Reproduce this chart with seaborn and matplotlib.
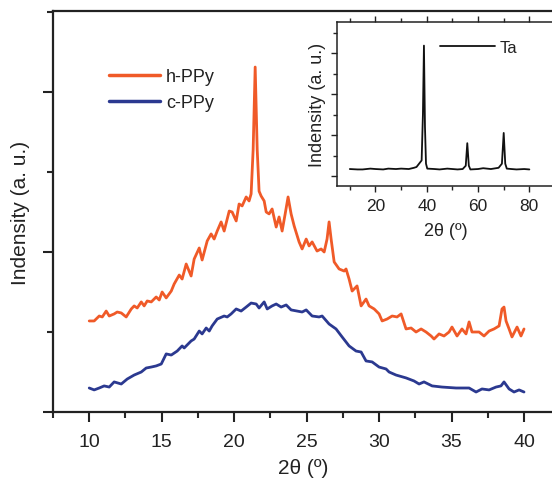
import matplotlib
matplotlib.use("Agg")
import matplotlib.pyplot as plt
import seaborn as sns
import pandas as pd
from matplotlib.ticker import MultipleLocator

# ---------------- data ----------------
h_x = [10.00, 10.34, 10.69, 10.90, 11.17, 11.38, 11.72, 11.93, 12.21, 12.55, 12.90, 13.10, 13.31,
       13.59, 13.79, 14.00, 14.28, 14.62, 14.83, 15.03, 15.31, 15.66, 15.86, 16.21, 16.41, 16.69,
       17.03, 17.24, 17.59, 17.79, 18.14, 18.41, 18.62, 18.83, 19.10, 19.31, 19.66, 19.86, 20.14,
       20.34, 20.55, 20.83, 21.03, 21.17, 21.31, 21.45, 21.59, 21.72, 21.86, 22.07, 22.21, 22.41,
       22.62, 22.90, 23.10, 23.31, 23.52, 23.72, 23.93, 24.14, 24.48, 24.69, 24.97, 25.17, 25.38,
       25.72, 26.00, 26.21, 26.41, 26.55, 26.69, 26.90, 27.24, 27.59, 27.72, 27.93, 28.14, 28.48,
       28.76, 29.10, 29.31, 29.66, 30.00, 30.21, 30.55, 30.90, 31.24, 31.52, 31.86, 32.21, 32.55,
       32.90, 33.24, 33.59, 33.79, 34.14, 34.48, 34.83, 35.03, 35.38, 35.72, 36.00, 36.21, 36.41,
       36.90, 37.24, 37.59, 37.93, 38.28, 38.48, 38.62, 38.76, 38.97, 39.17, 39.52, 39.79, 40.00]
h_y = [0.569, 0.569, 0.600, 0.594, 0.631, 0.600, 0.613, 0.625, 0.619, 0.594, 0.644, 0.663, 0.650,
       0.688, 0.663, 0.694, 0.688, 0.719, 0.700, 0.750, 0.713, 0.756, 0.800, 0.856, 0.831, 0.925,
       0.850, 0.956, 1.025, 0.950, 1.069, 1.113, 1.081, 1.131, 1.188, 1.131, 1.256, 1.250, 1.194,
       1.300, 1.288, 1.344, 1.319, 1.363, 1.640, 2.156, 1.640, 1.380, 1.350, 1.319, 1.250, 1.238,
       1.269, 1.156, 1.219, 1.131, 1.238, 1.344, 1.238, 1.163, 1.063, 1.019, 1.081, 1.038, 1.063,
       1.006, 1.019, 1.000, 1.081, 1.188, 1.081, 0.938, 0.894, 0.881, 0.894, 0.831, 0.756, 0.788,
       0.663, 0.706, 0.663, 0.644, 0.613, 0.569, 0.581, 0.600, 0.594, 0.613, 0.519, 0.525, 0.500,
       0.519, 0.500, 0.475, 0.456, 0.488, 0.475, 0.500, 0.531, 0.475, 0.519, 0.488, 0.563, 0.500,
       0.500, 0.475, 0.506, 0.519, 0.538, 0.644, 0.656, 0.569, 0.519, 0.469, 0.531, 0.475, 0.519]

c_x = [10.00, 10.34, 10.69, 11.03, 11.38, 11.72, 12.21, 12.62, 13.10, 13.59, 13.93, 14.28, 14.62,
       14.97, 15.31, 15.66, 16.07, 16.41, 16.55, 17.03, 17.24, 17.59, 17.79, 18.07, 18.28, 18.48,
       18.83, 19.31, 19.52, 19.79, 20.14, 20.48, 20.83, 21.17, 21.52, 21.72, 22.07, 22.28, 22.62,
       22.90, 23.24, 23.59, 23.93, 24.34, 24.69, 24.97, 25.38, 25.86, 26.07, 26.55, 27.03, 27.45,
       27.93, 28.41, 28.76, 29.10, 29.52, 30.00, 30.48, 30.69, 31.17, 31.86, 32.41, 32.76, 33.10,
       33.66, 34.34, 35.31, 36.21, 36.69, 37.10, 37.59, 38.07, 38.41, 38.62, 38.97, 39.31, 39.66,
       40.00]
c_y = [0.150, 0.138, 0.150, 0.163, 0.156, 0.188, 0.175, 0.206, 0.231, 0.250, 0.275, 0.281, 0.288,
       0.300, 0.363, 0.356, 0.381, 0.413, 0.400, 0.444, 0.456, 0.506, 0.488, 0.525, 0.506, 0.538,
       0.581, 0.600, 0.594, 0.613, 0.644, 0.631, 0.656, 0.681, 0.675, 0.650, 0.688, 0.644, 0.663,
       0.675, 0.656, 0.669, 0.638, 0.631, 0.625, 0.638, 0.600, 0.594, 0.600, 0.550, 0.519, 0.469,
       0.413, 0.381, 0.375, 0.319, 0.313, 0.281, 0.269, 0.250, 0.231, 0.213, 0.194, 0.175, 0.188,
       0.163, 0.156, 0.150, 0.150, 0.125, 0.144, 0.138, 0.156, 0.163, 0.188, 0.144, 0.125, 0.138,
       0.125]

ta_x = [10, 13, 15, 18, 20, 23, 25, 28, 30, 33, 35, 36, 37, 38, 38.5, 38.9, 39.3, 39.7, 40.2,
        43, 45, 48, 50, 52, 54, 55.2, 55.8, 56.4, 57, 60, 62, 65, 68, 69.3, 70, 70.6, 71.2,
        73, 75, 78, 80]
ta_y = [0.17, 0.16, 0.16, 0.18, 0.17, 0.16, 0.18, 0.17, 0.18, 0.17, 0.20, 0.22, 0.30, 0.38,
        1.50, 3.18, 1.20, 0.30, 0.18, 0.17, 0.16, 0.18, 0.17, 0.16, 0.17, 0.25, 0.80, 0.25,
        0.16, 0.17, 0.19, 0.17, 0.20, 0.30, 1.05, 0.30, 0.18, 0.17, 0.16, 0.17, 0.16]

labels = ["h-PPy", "c-PPy"]
colors = ["#F05A28", "#2B3990"]
ticks_main = [10, 15, 20, 25, 30, 35, 40]
ticks_inset = [20, 40, 60, 80]

df = pd.concat([
    pd.DataFrame({"x": h_x, "y": h_y, "sample": labels[0]}),
    pd.DataFrame({"x": c_x, "y": c_y, "sample": labels[1]}),
])
df_ta = pd.DataFrame({"x": ta_x, "y": ta_y})

# ---------------- style ----------------
sns.set_theme(style="ticks")
plt.rcParams["font.family"] = ["Liberation Sans", "DejaVu Sans"]

W, H = 552, 481
fig = plt.figure(figsize=(W / 100, H / 100), dpi=100)

# main axes (extends slightly beyond right edge as in reference)
ax = fig.add_axes([53 / W, (H - 413) / H, 500 / W, 401 / H])
for lab, col in zip(labels, colors):
    sns.lineplot(data=df[df["sample"] == lab], x="x", y="y", color=col, lw=2.0,
                 sort=False, estimator=None, ax=ax, label=lab)
ax.set_xlim(7.5, 42)
ax.set_ylim(0, 401 / 160)
ax.set_xticks(ticks_main)
ax.xaxis.set_minor_locator(MultipleLocator(2.5))
ax.set_yticks([0, 1, 2])
ax.yaxis.set_minor_locator(MultipleLocator(0.5))
ax.set_yticklabels([])
ax.tick_params(axis="both", which="major", direction="out", length=7, width=1.5,
               labelsize=14, colors="#222222", pad=8)
ax.tick_params(axis="both", which="minor", direction="out", length=4, width=1.5)
for s in ["left", "top", "bottom"]:
    ax.spines[s].set_linewidth(1.6)
    ax.spines[s].set_color("#222222")
ax.spines["right"].set_visible(False)
ax.set_xlabel("2θ (º)", fontsize=15, color="#222222", labelpad=6)
ax.set_ylabel("Indensity (a. u.)", fontsize=15, color="#222222")
ax.yaxis.set_label_coords(-23 / 500, 0.5)
leg = ax.legend(loc="upper left", bbox_to_anchor=(109 / W, 1 - 69 / H),
                bbox_transform=fig.transFigure, frameon=False, fontsize=13,
                handlelength=2.85, handletextpad=0.3, labelspacing=0.5,
                borderpad=0, borderaxespad=0)
for t in leg.get_texts():
    t.set_color("#222222")
for l in leg.get_lines():
    l.set_linewidth(2.5)

# inset axes
ax2 = fig.add_axes([337 / W, (H - 187) / H, 218 / W, 164 / H])
sns.lineplot(data=df_ta, x="x", y="y", color="#111111", lw=1.3, sort=False,
             estimator=None, ax=ax2, label="Ta")
ax2.set_xlim(5, 90)
ax2.set_ylim(-10 / 41, 154 / 41)
ax2.set_xticks(ticks_inset)
ax2.xaxis.set_minor_locator(MultipleLocator(10))
ax2.set_yticks([0, 1, 2, 3])
ax2.yaxis.set_minor_locator(MultipleLocator(0.5))
ax2.set_yticklabels([])
ax2.tick_params(axis="both", which="major", direction="out", length=4, width=1,
                labelsize=12.5, colors="#222222", pad=5)
ax2.tick_params(axis="both", which="minor", direction="out", length=3, width=1)
ax2.tick_params(axis="x", which="both", top=True)
for s in ["left", "top", "bottom"]:
    ax2.spines[s].set_linewidth(1.1)
    ax2.spines[s].set_color("#222222")
ax2.spines["right"].set_visible(False)
ax2.set_xlabel("2θ (º)", fontsize=13, color="#222222", labelpad=6)
ax2.set_ylabel("Indensity (a. u.)", fontsize=13, color="#222222")
ax2.yaxis.set_label_coords(-11 / 218, 0.5)
leg2 = ax2.legend(loc="upper left", bbox_to_anchor=(440 / W, 1 - 41 / H),
                  bbox_transform=fig.transFigure, frameon=False, fontsize=12,
                  handlelength=3.3, handletextpad=0.25, borderpad=0, borderaxespad=0)
for t in leg2.get_texts():
    t.set_color("#222222")

fig.savefig("out.png", dpi=100)
